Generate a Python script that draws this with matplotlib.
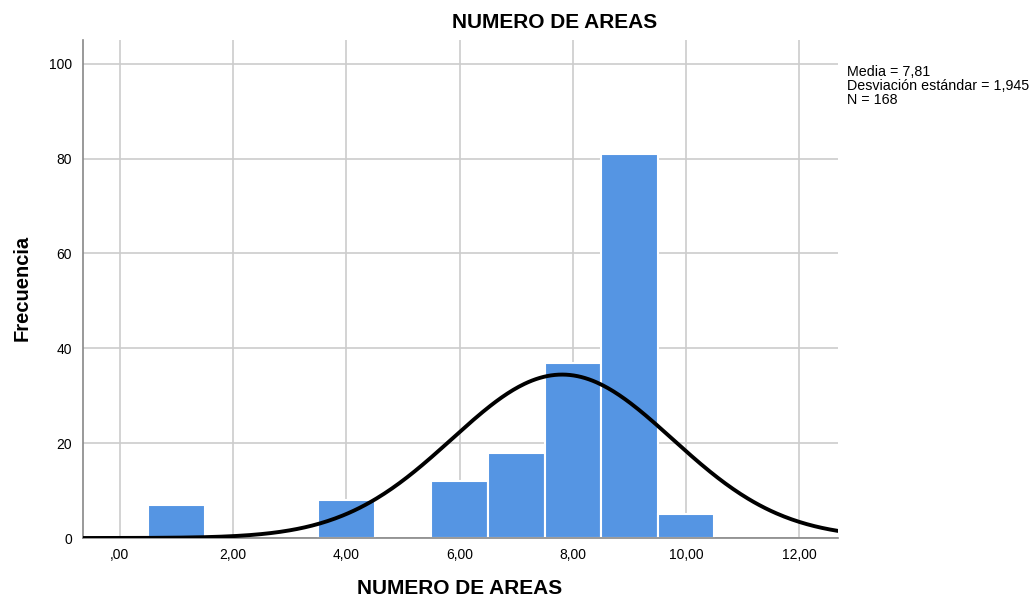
import numpy as np
import matplotlib
matplotlib.use("Agg")
import matplotlib.pyplot as plt

plt.rcParams['font.family'] = ['Liberation Sans', 'DejaVu Sans']

# frequency per number of areas (bins of width 1 centred on integers)
areas = [1, 4, 6, 7, 8, 9, 10]
freq = [7, 8, 12, 18, 37, 81, 5]
media = 7.81
desv = 1.945
n_total = 168

x_ticks = [0, 2, 4, 6, 8, 10, 12]
x_labels = [",00", "2,00", "4,00", "6,00", "8,00", "10,00", "12,00"]
y_ticks = [0, 20, 40, 60, 80, 100]

fig = plt.figure(figsize=(10.33, 5.97), dpi=100)
ax = fig.add_axes([0.0803, 0.0988, 0.7309, 0.8342])

ax.bar(areas, freq, width=1.0, color="#5595e3", edgecolor="white", linewidth=1.5, zorder=2)

# fitted normal curve scaled to counts
xs = np.linspace(-0.65, 12.7, 400)
ys = n_total * 1.0 / (desv * np.sqrt(2 * np.pi)) * np.exp(-0.5 * ((xs - media) / desv) ** 2)
ax.plot(xs, ys, color="black", linewidth=2.8, zorder=3, solid_capstyle="butt")

ax.set_xlim(-0.65, 12.68)
ax.set_ylim(0, 105)
ax.set_xticks(x_ticks)
ax.set_xticklabels(x_labels)
ax.set_yticks(y_ticks)
ax.tick_params(axis="x", length=0, labelsize=10, pad=7)
ax.tick_params(axis="y", length=0, labelsize=10, pad=8)
ax.grid(True, color="#cccccc", linewidth=1.2, zorder=0)
ax.set_axisbelow(True)

for side in ["top", "right"]:
    ax.spines[side].set_visible(False)
for side in ["left", "bottom"]:
    ax.spines[side].set_color("#888888")
    ax.spines[side].set_linewidth(1.2)

fig.text(460 / 1033, 1 - 588 / 597, "NUMERO DE AREAS", fontsize=15, fontweight="bold",
         ha="center", va="center")
fig.text(22 / 1033, 1 - 288 / 597, "Frecuencia", fontsize=14.5, fontweight="bold",
         ha="center", va="center", rotation=90)
fig.text(555 / 1033, 1 - 22 / 597, "NUMERO DE AREAS", fontsize=15, fontweight="bold",
         ha="center", va="center")
fig.text(847 / 1033, 1 - 65 / 597,
         "Media = 7,81\nDesviación estándar = 1,945\nN = 168",
         fontsize=10.3, ha="left", va="top", linespacing=0.98)

fig.savefig("out.png", dpi=100)
